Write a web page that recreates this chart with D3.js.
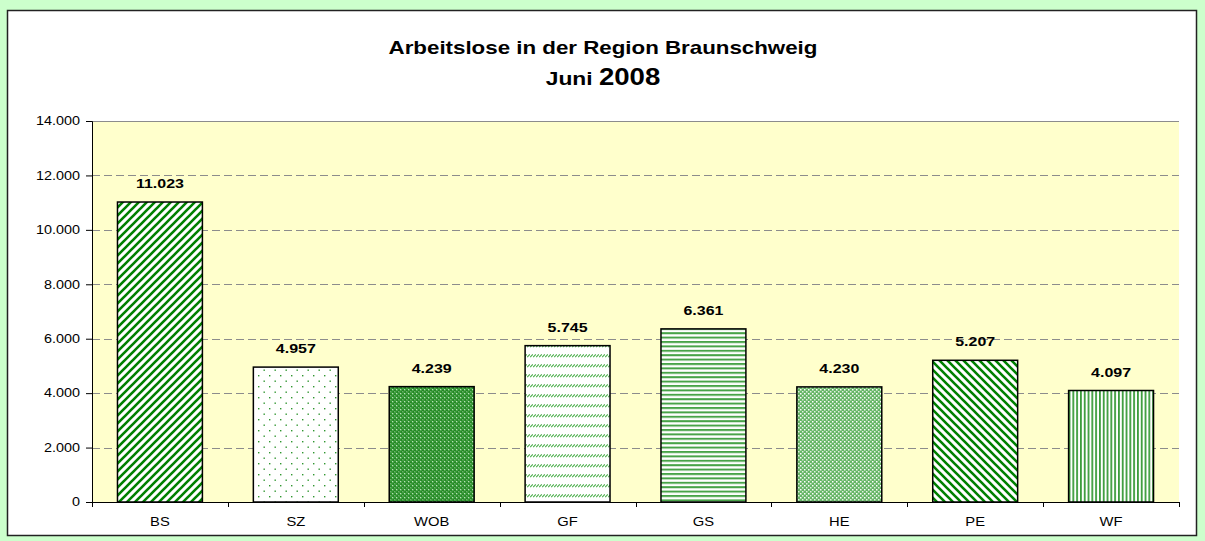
<!DOCTYPE html>
<html>
<head>
<meta charset="utf-8">
<script src="https://cdn.jsdelivr.net/npm/d3@7"></script>
<style>
  body { margin: 0; background: #ccffcc; }
  svg text { font-family: Arial, "Liberation Sans", sans-serif; }
</style>
</head>
<body>
<div class="container"></div>
<script>
// Data
const regions = ["BS", "SZ", "WOB", "GF", "GS", "HE", "PE", "WF"];
const arbeitslose = [11023, 4957, 4239, 5745, 6361, 4230, 5207, 4097];
const yTicks = [0, 2000, 4000, 6000, 8000, 10000, 12000, 14000];
const patternIds = ["upDiag", "dots", "denseCheck", "dashDiag", "hLines", "lightCheck", "downDiag", "vLines"];

const width = 1205;
const height = 541;
const margin = { top: 121, right: 26, bottom: 39, left: 92 };
const plotW = width - margin.left - margin.right;
const plotH = height - margin.top - margin.bottom;
const stretch = 1.2; // text in the original looks horizontally widened

const de = d3.formatLocale({ decimal: ",", thousands: ".", grouping: [3], currency: ["", " €"] });
const fmt = de.format(",d");

const svg = d3
  .select(".container")
  .append("svg")
  .attr("width", width)
  .attr("height", height);

// Patterns
const defs = svg.append("defs");
const green = "#008000";
const lightGreen = "#4caf4c";

const addPattern = (id, w, h) =>
  defs
    .append("pattern")
    .attr("id", id)
    .attr("patternUnits", "userSpaceOnUse")
    .attr("width", w)
    .attr("height", h);

let p = addPattern("upDiag", 8, 8);
p.append("rect").attr("width", 8).attr("height", 8).attr("fill", "#fff");
p.append("path")
  .attr("d", "M-2,2 L2,-2 M0,8 L8,0 M6,10 L10,6")
  .attr("stroke", green)
  .attr("stroke-width", 2.6);

p = addPattern("downDiag", 8, 8);
p.append("rect").attr("width", 8).attr("height", 8).attr("fill", "#fff");
p.append("path")
  .attr("d", "M-2,6 L2,10 M0,0 L8,8 M6,-2 L10,2")
  .attr("stroke", green)
  .attr("stroke-width", 2.6);

p = addPattern("dots", 11, 11);
p.append("rect").attr("width", 11).attr("height", 11).attr("fill", "#fff");
p.append("rect").attr("x", 1).attr("y", 1).attr("width", 1.4).attr("height", 1.4).attr("fill", "#2f962f");
p.append("rect").attr("x", 6.5).attr("y", 6.5).attr("width", 1.4).attr("height", 1.4).attr("fill", "#2f962f");

p = addPattern("denseCheck", 4, 4);
p.append("rect").attr("width", 4).attr("height", 4).attr("fill", "#3d9f3d");
p.append("rect").attr("x", 0).attr("y", 0).attr("width", 1.2).attr("height", 1.2).attr("fill", "#b8e0b8");
p.append("rect").attr("x", 2).attr("y", 2).attr("width", 1.2).attr("height", 1.2).attr("fill", "#b8e0b8");
p.append("path").attr("d", "M0.5,3 h2 M3,0.5 v2").attr("stroke", "#0a700a").attr("stroke-width", 1);

p = addPattern("lightCheck", 4, 4);
p.append("rect").attr("width", 4).attr("height", 4).attr("fill", "#66b566");
p.append("rect").attr("x", 0).attr("y", 0).attr("width", 1.5).attr("height", 1.5).attr("fill", "#ffffff");
p.append("rect").attr("x", 2).attr("y", 2).attr("width", 1.5).attr("height", 1.5).attr("fill", "#e0f2e0");

p = addPattern("dashDiag", 3, 10);
p.append("rect").attr("width", 3).attr("height", 10).attr("fill", "#fff");
p.append("path")
  .attr("d", "M0.2,6.2 L2.8,3.4")
  .attr("stroke", lightGreen)
  .attr("stroke-width", 1.1);

p = addPattern("hLines", 4, 4.4);
p.append("rect").attr("width", 4).attr("height", 4.4).attr("fill", "#fff");
p.append("rect").attr("y", 0).attr("width", 4).attr("height", 2).attr("fill", "#48a348");

p = addPattern("vLines", 3.8, 4);
p.append("rect").attr("width", 3.8).attr("height", 4).attr("fill", "#fff");
p.append("rect").attr("x", 0).attr("width", 1.8).attr("height", 4).attr("fill", "#3c9c3c");

// Chart frame
svg
  .append("rect")
  .attr("x", 7.5)
  .attr("y", 10.5)
  .attr("width", 1189)
  .attr("height", 525)
  .attr("fill", "#fff")
  .attr("stroke", "#222")
  .attr("stroke-width", 1.5);

// Title
const addTitleLine = (y, parts) => {
  const t = svg
    .append("text")
    .attr("text-anchor", "middle")
    .attr("transform", "translate(603," + y + ") scale(" + stretch + ",1)")
    .style("font-weight", "bold")
    .attr("fill", "#000");
  parts.forEach((part) => t.append("tspan").style("font-size", part[1] + "px").text(part[0]));
};
addTitleLine(54, [["Arbeitslose in der Region Braunschweig", 18.6]]);
addTitleLine(85, [["Juni ", 19], ["2008", 23]]);

// Scales
const xScale = d3.scaleBand().domain(regions).range([0, plotW]).paddingInner(0.375).paddingOuter(0.1875);
const yScale = d3.scaleLinear().domain([0, 14000]).range([plotH, 0]);

const g = svg.append("g").attr("transform", "translate(" + margin.left + "," + margin.top + ")");

// Plot area
g.append("rect").attr("width", plotW).attr("height", plotH).attr("fill", "#ffffcc");

// Grid
g.append("g")
  .selectAll("line")
  .data(yTicks.filter((d) => d > 0))
  .enter()
  .append("line")
  .attr("x1", 0)
  .attr("x2", plotW)
  .attr("y1", (d) => Math.round(yScale(d)) + 0.5)
  .attr("y2", (d) => Math.round(yScale(d)) + 0.5)
  .attr("stroke", "#8c8c8c")
  .attr("stroke-width", 1)
  .attr("stroke-dasharray", (d) => (d === 14000 ? null : "8,4"));

// Bars
g.append("g")
  .selectAll("rect")
  .data(regions)
  .enter()
  .append("rect")
  .attr("x", (d) => xScale(d))
  .attr("y", (d, i) => yScale(arbeitslose[i]))
  .attr("width", xScale.bandwidth())
  .attr("height", (d, i) => plotH - yScale(arbeitslose[i]))
  .attr("fill", (d, i) => "url(#" + patternIds[i] + ")")
  .attr("stroke", "#000")
  .attr("stroke-width", 1.5);

// Value labels
g.append("g")
  .selectAll("text")
  .data(regions)
  .enter()
  .append("text")
  .attr("transform", (d, i) =>
    "translate(" + (xScale(d) + xScale.bandwidth() / 2) + "," + (yScale(arbeitslose[i]) - 14) + ") scale(" + stretch + ",1)"
  )
  .attr("text-anchor", "middle")
  .style("font-size", "13.3px")
  .style("font-weight", "bold")
  .text((d, i) => fmt(arbeitslose[i]));

// Y axis
const yAxis = d3.axisLeft(yScale).tickValues(yTicks).tickSize(6).tickPadding(0).tickFormat(fmt);
g.append("g")
  .attr("class", "y-axis")
  .call(yAxis)
  .call((s) =>
    s
      .selectAll("text")
      .attr("x", null)
      .attr("transform", "translate(-12,0) scale(" + stretch + ",1)")
      .style("font-size", "12px")
      .attr("fill", "#000")
  )
  .call((s) => s.selectAll("line, path").attr("stroke", "#000"));

// X axis
const xAxis = d3.axisBottom(xScale).tickSize(0).tickPadding(0);
const xg = g
  .append("g")
  .attr("transform", "translate(0," + plotH + ")")
  .call(xAxis)
  .call((s) =>
    s
      .selectAll("text")
      .attr("y", null)
      .attr("transform", "translate(0,15) scale(" + stretch + ",1)")
      .style("font-size", "12.3px")
      .attr("fill", "#000")
  )
  .call((s) => s.select(".domain").attr("stroke", "#000"));

// tick marks between categories
xg.selectAll(".sep")
  .data(d3.range(regions.length + 1))
  .enter()
  .append("line")
  .attr("class", "sep")
  .attr("x1", (i) => Math.round((i * plotW) / regions.length) + 0.5)
  .attr("x2", (i) => Math.round((i * plotW) / regions.length) + 0.5)
  .attr("y1", 0)
  .attr("y2", 5)
  .attr("stroke", "#000");
</script>
</body>
</html>
